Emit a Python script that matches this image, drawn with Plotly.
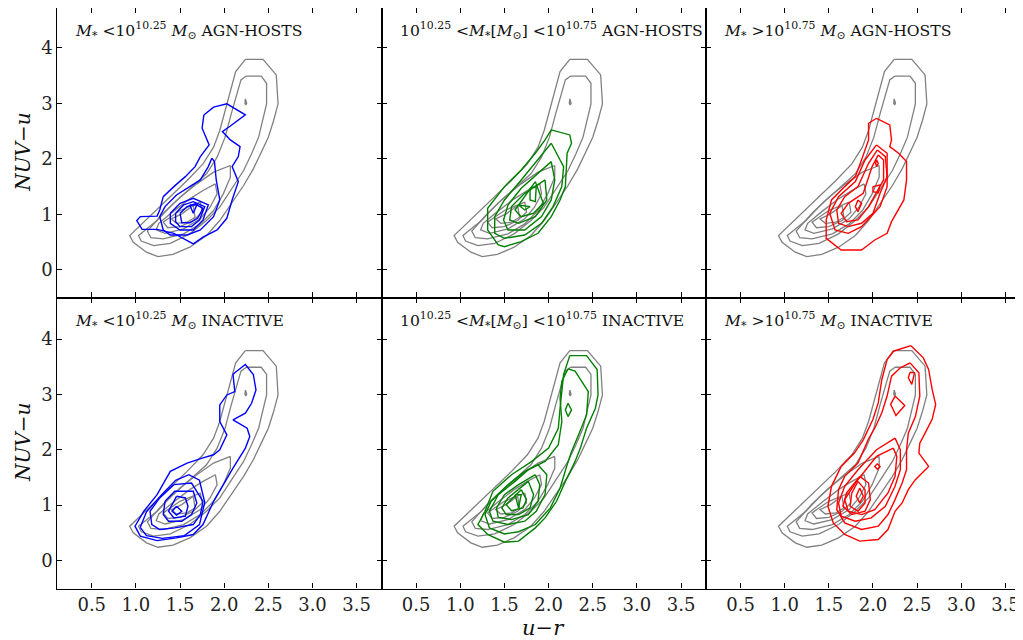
import plotly.graph_objects as go

# ---------------- data (contour polylines, u-r vs NUV-u) ----------------
gray_ref = [
    [(2.24,3.79),(2.44,3.79),(2.59,3.51),(2.61,2.99),(2.56,2.69),(2.50,2.39),(2.42,2.12),(2.33,1.82),
     (2.22,1.52),(2.10,1.25),(1.95,0.89),(1.80,0.62),(1.61,0.41),(1.42,0.28),(1.25,0.24),(1.12,0.32),
     (0.97,0.50),(0.93,0.62),(1.05,0.80),(1.20,1.04),(1.39,1.31),(1.58,1.61),(1.76,1.91),(1.88,2.21),
     (1.95,2.51),(2.01,2.87),(2.07,3.24),(2.13,3.57),(2.24,3.79)],
    [(2.25,3.49),(2.42,3.49),(2.48,3.36),(2.48,2.99),(2.39,2.39),(2.31,2.09),(2.22,1.79),(2.10,1.49),
     (1.95,1.13),(1.80,0.89),(1.61,0.65),(1.39,0.48),(1.20,0.44),(1.06,0.52),(1.03,0.62),(1.10,0.71),
     (1.24,0.89),(1.42,1.19),(1.61,1.46),(1.80,1.73),(1.92,2.03),(2.01,2.39),(2.08,2.81),(2.14,3.17),
     (2.19,3.42),(2.25,3.49)],
    [(2.07,1.88),(2.07,1.67),(1.99,1.37),(1.88,1.07),(1.73,0.83),(1.54,0.65),(1.31,0.56),(1.17,0.58),
     (1.13,0.70),(1.20,0.83),(1.31,1.02),(1.50,1.31),(1.69,1.55),(1.88,1.76),(2.07,1.88)],
    [(1.90,1.55),(1.92,1.37),(1.84,1.13),(1.73,0.92),(1.54,0.74),(1.33,0.66),(1.23,0.72),(1.26,0.84),
     (1.42,1.05),(1.61,1.28),(1.76,1.43),(1.90,1.55)],
    [(1.73,1.22),(1.75,1.04),(1.65,0.89),(1.50,0.78),(1.36,0.76),(1.31,0.86),(1.38,0.94),(1.50,1.07),(1.73,1.22)],
    [(1.65,1.16),(1.67,0.95),(1.58,0.86),(1.46,0.84),(1.40,0.92),(1.52,1.01),(1.65,1.16)],
    [(2.24,3.08),(2.255,3.0),(2.245,2.97),(2.235,3.0),(2.24,3.08)],
]

agn_low = [
    [(1.77,2.79),(1.75,2.55),(1.83,2.25),(1.73,2.04),(1.67,1.86),(1.56,1.68),(1.43,1.50),(1.31,1.32),
     (1.27,1.08),(1.24,0.97),(1.05,0.96),(1.01,0.89),(1.07,0.73),(1.24,0.73),(1.43,0.66),(1.65,0.47),
     (1.76,0.59),(1.92,0.72),(2.03,0.93),(2.09,1.26),(2.16,1.59),(2.09,1.86),(2.16,2.04),(2.18,2.22),
     (2.07,2.34),(1.98,2.49),(2.07,2.59),(2.24,2.79),(2.03,2.99),(1.88,2.93),(1.77,2.79)],
    [(1.86,2.01),(1.89,1.95),(1.91,1.62),(1.95,1.26),(1.88,0.96),(1.73,0.72),(1.58,0.63),(1.39,0.63),
     (1.31,0.72),(1.27,0.96),(1.33,1.14),(1.46,1.35),(1.61,1.50),(1.73,1.62),(1.82,1.86),(1.86,2.01)],
    [(1.39,1.02),(1.50,1.20),(1.65,1.29),(1.82,1.17),(1.76,0.90),(1.65,0.72),(1.50,0.72),(1.39,0.84),(1.39,1.02)],
    [(1.45,1.02),(1.54,1.17),(1.65,1.23),(1.78,1.14),(1.72,0.90),(1.63,0.78),(1.50,0.78),(1.45,0.87),(1.45,1.02)],
    [(1.50,1.02),(1.58,1.14),(1.67,1.19),(1.76,1.11),(1.70,0.93),(1.61,0.85),(1.52,0.85),(1.50,1.02)],
    [(1.61,1.17),(1.69,1.17),(1.65,1.02),(1.61,1.17)],
]

agn_mid = [
    [(2.03,2.52),(2.24,2.43),(2.26,2.28),(2.21,2.10),(2.19,1.50),(2.13,1.26),(2.03,0.96),(1.88,0.66),
     (1.69,0.51),(1.50,0.42),(1.43,0.45),(1.31,0.72),(1.31,1.11),(1.50,1.50),(1.69,1.80),(1.85,2.10),
     (1.96,2.34),(2.03,2.52)],
    [(2.03,2.28),(2.17,1.86),(2.15,1.50),(2.05,1.14),(1.92,0.84),(1.73,0.63),(1.50,0.57),(1.39,0.66),
     (1.39,0.96),(1.50,1.26),(1.69,1.62),(1.88,1.98),(2.03,2.28)],
    [(2.03,1.95),(2.07,1.62),(2.03,1.26),(1.92,0.96),(1.73,0.72),(1.54,0.72),(1.49,0.90),(1.54,1.17),
     (1.69,1.47),(1.88,1.74),(2.03,1.95)],
    [(1.96,1.62),(1.98,1.26),(1.85,0.96),(1.66,0.84),(1.56,0.90),(1.58,1.14),(1.73,1.38),(1.96,1.62)],
    [(1.85,1.59),(1.94,1.20),(1.83,1.02),(1.69,0.96),(1.62,1.08),(1.73,1.32),(1.85,1.59)],
    [(1.79,1.47),(1.86,1.50),(1.85,1.23),(1.79,1.26),(1.79,1.47)],
    [(1.66,1.17),(1.79,1.14),(1.73,1.08),(1.66,1.17)],
]

agn_high = [
    [(2.04,2.73),(2.19,2.61),(2.21,2.34),(2.19,2.22),(2.29,2.10),(2.38,1.95),(2.38,1.62),(2.35,1.26),
     (2.21,0.87),(2.16,0.66),(2.02,0.54),(1.87,0.36),(1.64,0.36),(1.47,0.57),(1.47,0.90),(1.53,1.26),
     (1.68,1.50),(1.80,1.68),(1.87,1.98),(1.95,2.34),(1.95,2.64),(2.04,2.73)],
    [(2.04,2.25),(2.16,2.10),(2.16,1.50),(2.08,1.14),(1.87,0.78),(1.72,0.66),(1.57,0.72),(1.51,1.02),
     (1.61,1.32),(1.80,1.59),(1.91,1.98),(2.04,2.25)],
    [(2.05,2.16),(2.14,2.04),(2.16,1.68),(2.08,1.38),(2.00,1.02),(1.87,0.84),(1.72,0.78),(1.61,0.84),
     (1.59,1.08),(1.68,1.32),(1.83,1.50),(1.95,1.92),(2.05,2.16)],
    [(2.06,2.07),(2.12,1.98),(2.12,1.62),(1.95,1.14),(1.83,0.90),(1.70,0.87),(1.64,1.02),(1.72,1.20),
     (1.89,1.38),(1.99,1.86),(2.06,2.07)],
    [(2.00,1.50),(2.08,1.53),(2.06,1.39),(2.00,1.41),(2.00,1.50)],
    [(1.83,1.26),(1.87,1.20),(1.83,1.05),(1.80,1.14),(1.83,1.26)],
    [(2.04,1.98),(2.06,1.92),(2.04,1.86),(2.03,1.92),(2.04,1.98)],
]

ina_low = [
    [(2.12,3.39),(2.24,3.54),(2.33,3.36),(2.36,3.08),(2.31,2.84),(2.24,2.66),(2.10,2.54),(2.26,2.39),
     (2.29,2.24),(2.24,2.03),(2.10,1.67),(1.99,1.37),(1.88,1.07),(1.76,0.65),(1.65,0.47),(1.46,0.41),
     (1.24,0.36),(1.05,0.44),(0.99,0.62),(1.09,0.89),(1.24,1.19),(1.39,1.61),(1.58,1.76),(1.75,1.85),
     (1.88,1.91),(1.95,2.00),(2.03,2.27),(1.95,2.51),(1.95,2.81),(2.03,2.99),(2.12,3.05),(2.10,3.36),(2.12,3.39)],
    [(1.05,0.60),(1.12,0.88),(1.30,1.20),(1.45,1.45),(1.60,1.55),(1.72,1.45),(1.78,1.05),(1.72,0.65),
     (1.55,0.45),(1.30,0.40),(1.12,0.45),(1.05,0.60)],
    [(1.43,1.37),(1.63,1.40),(1.76,1.07),(1.73,0.83),(1.65,0.65),(1.44,0.59),(1.27,0.56),(1.18,0.65),
     (1.16,0.89),(1.27,1.13),(1.43,1.37)],
    [(1.33,1.07),(1.44,1.25),(1.65,1.25),(1.69,1.04),(1.63,0.83),(1.52,0.71),(1.37,0.71),(1.31,0.83),(1.33,1.07)],
    [(1.46,1.16),(1.56,1.13),(1.59,0.98),(1.56,0.80),(1.43,0.77),(1.37,0.89),(1.46,1.16)],
    [(1.46,0.98),(1.52,0.89),(1.46,0.82),(1.41,0.89),(1.46,0.98)],
]

ina_mid = [
    [(2.24,3.70),(2.43,3.70),(2.55,3.45),(2.56,2.99),(2.53,2.75),(2.43,2.39),(2.36,2.03),(2.30,1.79),
     (2.19,1.43),(2.09,1.07),(1.96,0.77),(1.85,0.59),(1.66,0.35),(1.50,0.33),(1.31,0.47),(1.20,0.65),
     (1.28,0.89),(1.37,1.25),(1.58,1.55),(1.81,1.79),(2.00,2.03),(2.11,2.39),(2.13,2.75),(2.17,3.36),(2.24,3.70)],
    [(2.22,3.46),(2.30,3.42),(2.45,3.05),(2.43,2.63),(2.34,2.27),(2.26,1.97),(2.21,1.73),(2.13,1.31),
     (2.02,0.95),(1.85,0.65),(1.66,0.52),(1.50,0.48),(1.33,0.59),(1.28,0.83),(1.35,1.07),(1.54,1.37),
     (1.73,1.61),(1.96,1.79),(2.11,2.09),(2.15,2.51),(2.13,2.93),(2.15,3.24),(2.22,3.46)],
    [(2.22,2.84),(2.26,2.72),(2.22,2.60),(2.19,2.72),(2.22,2.84)],
    [(1.88,1.73),(1.98,1.55),(1.96,1.19),(1.86,0.89),(1.73,0.71),(1.54,0.65),(1.37,0.71),(1.33,0.89),
     (1.43,1.19),(1.62,1.43),(1.77,1.64),(1.88,1.73)],
    [(1.85,1.55),(1.90,1.37),(1.88,1.07),(1.77,0.83),(1.58,0.74),(1.43,0.78),(1.41,0.95),(1.50,1.19),
     (1.66,1.37),(1.85,1.55)],
    [(1.77,1.43),(1.83,1.19),(1.79,0.95),(1.66,0.83),(1.52,0.83),(1.47,0.95),(1.54,1.13),(1.77,1.43)],
    [(1.69,1.28),(1.75,1.10),(1.71,0.95),(1.58,0.90),(1.52,1.01),(1.69,1.28)],
    [(1.62,1.19),(1.69,1.19),(1.66,0.95),(1.62,1.19)],
]

ina_high = [
    [(2.43,3.88),(2.57,3.66),(2.63,3.45),(2.67,3.09),(2.71,2.82),(2.67,2.55),(2.59,2.30),(2.53,2.12),
     (2.52,1.94),(2.63,1.70),(2.48,1.46),(2.40,1.28),(2.33,1.04),(2.25,0.89),(2.17,0.56),(2.06,0.38),
     (1.85,0.35),(1.68,0.47),(1.55,0.68),(1.49,0.98),(1.53,1.34),(1.64,1.70),(1.79,1.94),(1.89,2.18),
     (2.00,2.55),(2.06,2.85),(2.10,3.27),(2.16,3.63),(2.23,3.78),(2.43,3.88)],
    [(2.42,3.57),(2.52,3.39),(2.53,2.97),(2.48,2.60),(2.40,2.30),(2.38,2.00),(2.38,1.64),(2.33,1.40),
     (2.25,1.10),(2.17,0.83),(2.06,0.62),(1.87,0.56),(1.68,0.68),(1.59,0.92),(1.61,1.28),(1.68,1.52),
     (1.83,1.76),(1.95,2.20),(2.03,2.42),(2.10,2.67),(2.16,2.97),(2.21,3.33),(2.31,3.48),(2.42,3.57)],
    [(2.25,2.21),(2.31,2.00),(2.31,1.64),(2.25,1.34),(2.14,0.98),(1.98,0.77),(1.80,0.71),(1.64,0.80),
     (1.61,1.04),(1.68,1.34),(1.83,1.64),(2.04,2.00),(2.25,2.21)],
    [(2.23,2.03),(2.27,1.88),(2.25,1.52),(2.17,1.22),(2.02,0.92),(1.87,0.83),(1.72,0.89),(1.68,1.10),
     (1.80,1.40),(2.04,1.88),(2.23,2.03)],
    [(1.85,1.52),(1.95,1.40),(1.97,1.10),(1.91,0.89),(1.76,0.83),(1.66,0.98),(1.70,1.22),(1.85,1.52)],
    [(1.83,1.43),(1.91,1.28),(1.91,1.04),(1.83,0.89),(1.74,0.98),(1.76,1.22),(1.83,1.43)],
    [(1.85,1.31),(1.89,1.16),(1.85,1.04),(1.81,1.16),(1.85,1.31)],
    [(2.05,1.75),(2.08,1.70),(2.05,1.65),(2.02,1.70),(2.05,1.75)],
    [(2.25,2.97),(2.36,2.80),(2.26,2.62),(2.20,2.82),(2.25,2.97)],
    [(2.42,3.40),(2.47,3.39),(2.44,3.18),(2.40,3.30),(2.42,3.40)],
]

mass_labels = [
    "<i>M</i><sub>*</sub> <10<sup>10.25</sup> <i>M</i><sub>\u2299</sub>",
    "10<sup>10.25</sup> <<i>M</i><sub>*</sub>[<i>M</i><sub>\u2299</sub>] <10<sup>10.75</sup>",
    "<i>M</i><sub>*</sub> >10<sup>10.75</sup> <i>M</i><sub>\u2299</sub>",
]
sample_labels = ["AGN-HOSTS", "INACTIVE"]
panel_sets = [agn_low, agn_mid, agn_high, ina_low, ina_mid, ina_high]
panel_colors = ["#0000ff", "#008000", "#ff0000", "#0000ff", "#008000", "#ff0000"]
x_ticks = [0.5, 1.0, 1.5, 2.0, 2.5, 3.0, 3.5]
y_ticks = [0, 1, 2, 3, 4]

# ---------------- layout geometry ----------------
# the page body has an 8px margin, so the figure is placed 8px right/down in the window
OFF = 8
W, H = 1023 - OFF, 640 - OFF
col_px = [(57.3, 381.7), (381.7, 706.1), (706.1, 1023.0)]   # window pixels
row_px = [(8.0, 297.5), (297.5, 588.5)]
PX_PER_X = 88.3
X0 = 0.11
y_ranges = [(-0.495, 4.714), (-0.505, 4.750)]
FONT = "DejaVu Serif"


def fx(px):
    return min(1.0, max(0.0, (px - OFF) / W))


def fy(py):
    return min(1.0, max(0.0, 1 - (py - OFF) / H))


def to_xy(contours):
    xs, ys = [], []
    for c in contours:
        for (a, b) in c:
            xs.append(a)
            ys.append(b)
        xs.append(None)
        ys.append(None)
    return xs, ys


fig = go.Figure()
layout = {}
for i in range(6):
    r, c = divmod(i, 3)
    n = i + 1
    xa = "x" if n == 1 else f"x{n}"
    ya = "y" if n == 1 else f"y{n}"
    gx, gy = to_xy(gray_ref)
    fig.add_trace(go.Scatter(x=gx, y=gy, xaxis=xa, yaxis=ya, mode="lines",
                             line=dict(color="#808080", width=1.3), hoverinfo="skip",
                             showlegend=False))
    cx, cy = to_xy(panel_sets[i])
    fig.add_trace(go.Scatter(x=cx, y=cy, xaxis=xa, yaxis=ya, mode="lines",
                             line=dict(color=panel_colors[i], width=1.4), hoverinfo="skip",
                             showlegend=False))
    x0p, x1p = col_px[c]
    y0p, y1p = row_px[r]
    xr = (X0, X0 + (x1p - x0p) / PX_PER_X)
    layout["xaxis" if n == 1 else f"xaxis{n}"] = dict(
        domain=[fx(x0p), fx(x1p)], range=list(xr), anchor=ya,
        tickvals=x_ticks, ticktext=[f"{v:.1f}" for v in x_ticks],
        showticklabels=(r == 1), ticks="inside", ticklen=5, tickwidth=1, tickcolor="black",
        showline=True, linecolor="black", linewidth=1.2, mirror="ticks",
        showgrid=False, zeroline=False, tickfont=dict(family=FONT, size=18, color="#222"),
    )
    layout["yaxis" if n == 1 else f"yaxis{n}"] = dict(
        domain=[fy(y1p), fy(y0p)], range=list(y_ranges[r]), anchor=xa,
        tickvals=y_ticks, showticklabels=(c == 0), ticks="inside", ticklen=5, tickwidth=1,
        tickcolor="black", showline=True, linecolor="black", linewidth=1.2,
        mirror=("ticks" if c < 2 else False),
        showgrid=False, zeroline=False, tickfont=dict(family=FONT, size=18, color="#222"),
    )

annotations = []
for i in range(6):
    r, c = divmod(i, 3)
    x0p = col_px[c][0]
    y0p = row_px[r][0]
    txt = mass_labels[c] + " " + sample_labels[r]
    annotations.append(dict(text=txt, xref="paper", yref="paper",
                            x=fx(x0p + 16), y=fy(y0p + 23), xanchor="left", yanchor="middle",
                            showarrow=False, font=dict(family=FONT, size=15.6, color="#111")))
for r in range(2):
    yc = (row_px[r][0] + row_px[r][1]) / 2
    annotations.append(dict(text="<i>NUV</i>\u2212<i>u</i>", xref="paper", yref="paper",
                            x=fx(23), y=fy(yc), textangle=-90, xanchor="center", yanchor="middle",
                            showarrow=False, font=dict(family=FONT, size=20, color="#111")))
annotations.append(dict(text="<i>u</i>\u2212<i>r</i>", xref="paper", yref="paper",
                        x=fx(543), y=fy(628), xanchor="center", yanchor="middle",
                        showarrow=False, font=dict(family=FONT, size=21, color="#111")))

fig.update_layout(width=W, height=H, margin=dict(l=0, r=0, t=0, b=0),
                  paper_bgcolor="white", plot_bgcolor="white", annotations=annotations,
                  **layout)
fig.write_html("out.html")
